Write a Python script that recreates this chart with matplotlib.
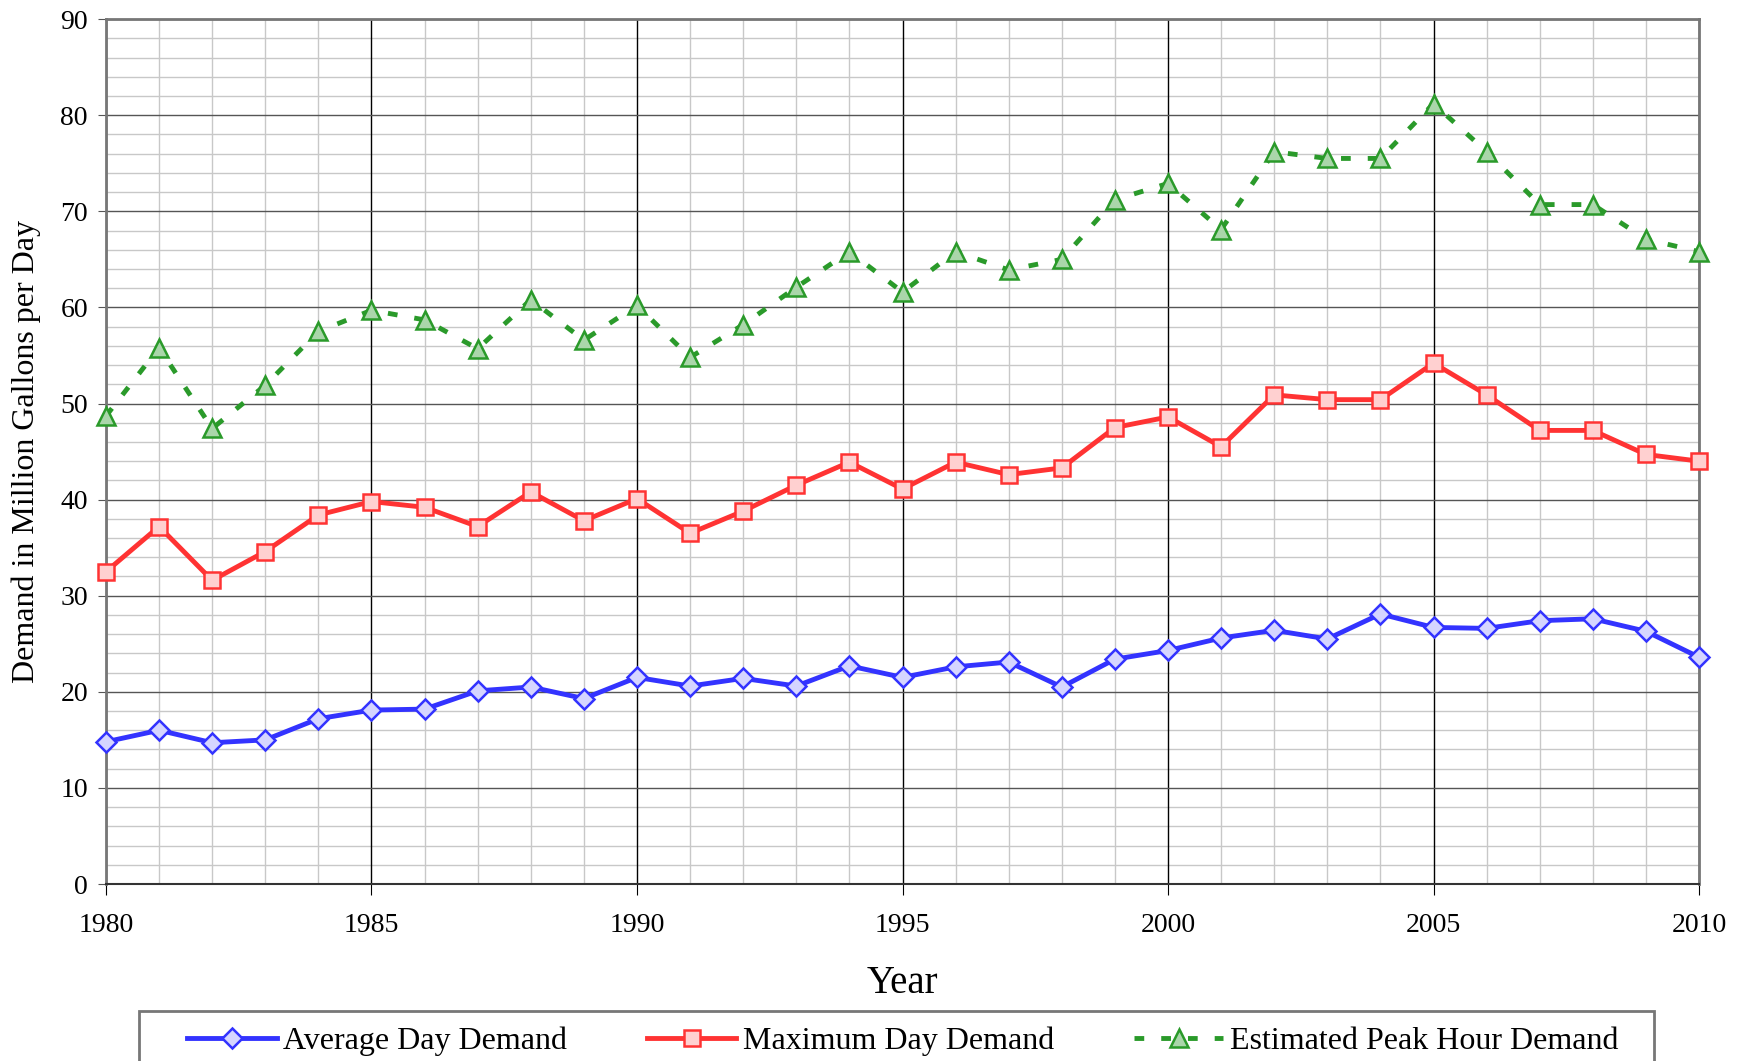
import numpy as np
import matplotlib.pyplot as plt
from matplotlib.patches import Rectangle

years = list(range(1980, 2011))
avg_day = [14.8, 16.0, 14.7, 15.0, 17.2, 18.1, 18.2, 20.1, 20.5, 19.3,
           21.5, 20.6, 21.4, 20.6, 22.7, 21.5, 22.6, 23.1, 20.5, 23.4,
           24.3, 25.6, 26.4, 25.5, 28.1, 26.7, 26.6, 27.4, 27.6, 26.3, 23.6]
max_day = [32.5, 37.2, 31.6, 34.6, 38.4, 39.8, 39.2, 37.2, 40.8, 37.8,
           40.1, 36.5, 38.8, 41.5, 43.9, 41.1, 43.9, 42.6, 43.3, 47.5,
           48.6, 45.5, 50.9, 50.4, 50.4, 54.2, 50.9, 47.2, 47.2, 44.7, 44.0]
peak_hour = [48.7, 55.8, 47.4, 51.9, 57.5, 59.7, 58.7, 55.7, 60.8, 56.6,
             60.2, 54.8, 58.2, 62.1, 65.8, 61.6, 65.8, 63.9, 65.0, 71.2,
             72.9, 68.1, 76.2, 75.5, 75.5, 81.2, 76.2, 70.7, 70.7, 67.1, 65.8]
x_ticks = [1980, 1985, 1990, 1995, 2000, 2005, 2010]
y_ticks = list(range(0, 91, 10))

plt.rcParams['font.family'] = ['Liberation Serif', 'DejaVu Serif']

fig = plt.figure(figsize=(17.46, 10.61), dpi=100)
ax = fig.add_axes([0.0607, 0.1668, 0.9124, 0.8152])

# grid
for yr in years:
    if yr in x_ticks:
        ax.axvline(yr, color='black', lw=1.0, zorder=1)
    else:
        ax.axvline(yr, color='#c8c8c8', lw=1.0, zorder=0)
for v in np.arange(0, 91, 2):
    if v % 10 == 0:
        ax.axhline(v, color='#555555', lw=1.0, zorder=1)
    else:
        ax.axhline(v, color='#c8c8c8', lw=1.0, zorder=0)

ax.plot(years, avg_day, color='#3333ff', lw=3.5, marker='D', ms=10.5,
        mfc='#d5d5ff', mec='#3333ff', mew=1.8, zorder=3, clip_on=False,
        label='Average Day Demand')
ax.plot(years, max_day, color='#ff3333', lw=3.5, marker='s', ms=11.5,
        mfc='#ffd0d0', mec='#ff3333', mew=1.8, zorder=3, clip_on=False,
        label='Maximum Day Demand')
ax.plot(years, peak_hour, color='#2a9a2a', lw=3.5, ls=(0, (2, 3.5)), marker='^', ms=13.5,
        mfc='#aad6aa', mec='#2a9a2a', mew=1.8, zorder=3, clip_on=False,
        label='Estimated Peak Hour Demand')

ax.set_xlim(1980, 2010)
ax.set_ylim(0, 90)
ax.set_xticks(x_ticks)
ax.set_yticks(y_ticks)
ax.tick_params(axis='x', labelsize=20, length=8, direction='out', pad=13, color='black')
ax.tick_params(axis='y', labelsize=20, length=6, direction='out', pad=7, color='#555555')
for side in ['left', 'top', 'right']:
    ax.spines[side].set_color('#777777')
    ax.spines[side].set_linewidth(2)
ax.spines['bottom'].set_color('#333333')
ax.spines['bottom'].set_linewidth(1.5)

ax.set_xlabel('Year', fontsize=28, labelpad=19)
ax.set_ylabel('Demand in Million Gallons per Day', fontsize=23, labelpad=14)

fig.patches.append(Rectangle((139 / 1746, -0.05), (1654 - 139) / 1746, 0.097,
                             transform=fig.transFigure, fill=False,
                             edgecolor='#777777', lw=2))
fig.legend(loc='center', bbox_to_anchor=(0.517, 0.0185), ncol=3, frameon=False,
           fontsize=23, handlelength=2.8, columnspacing=2.5, handletextpad=0.2)

fig.savefig('out.png', dpi=100)
